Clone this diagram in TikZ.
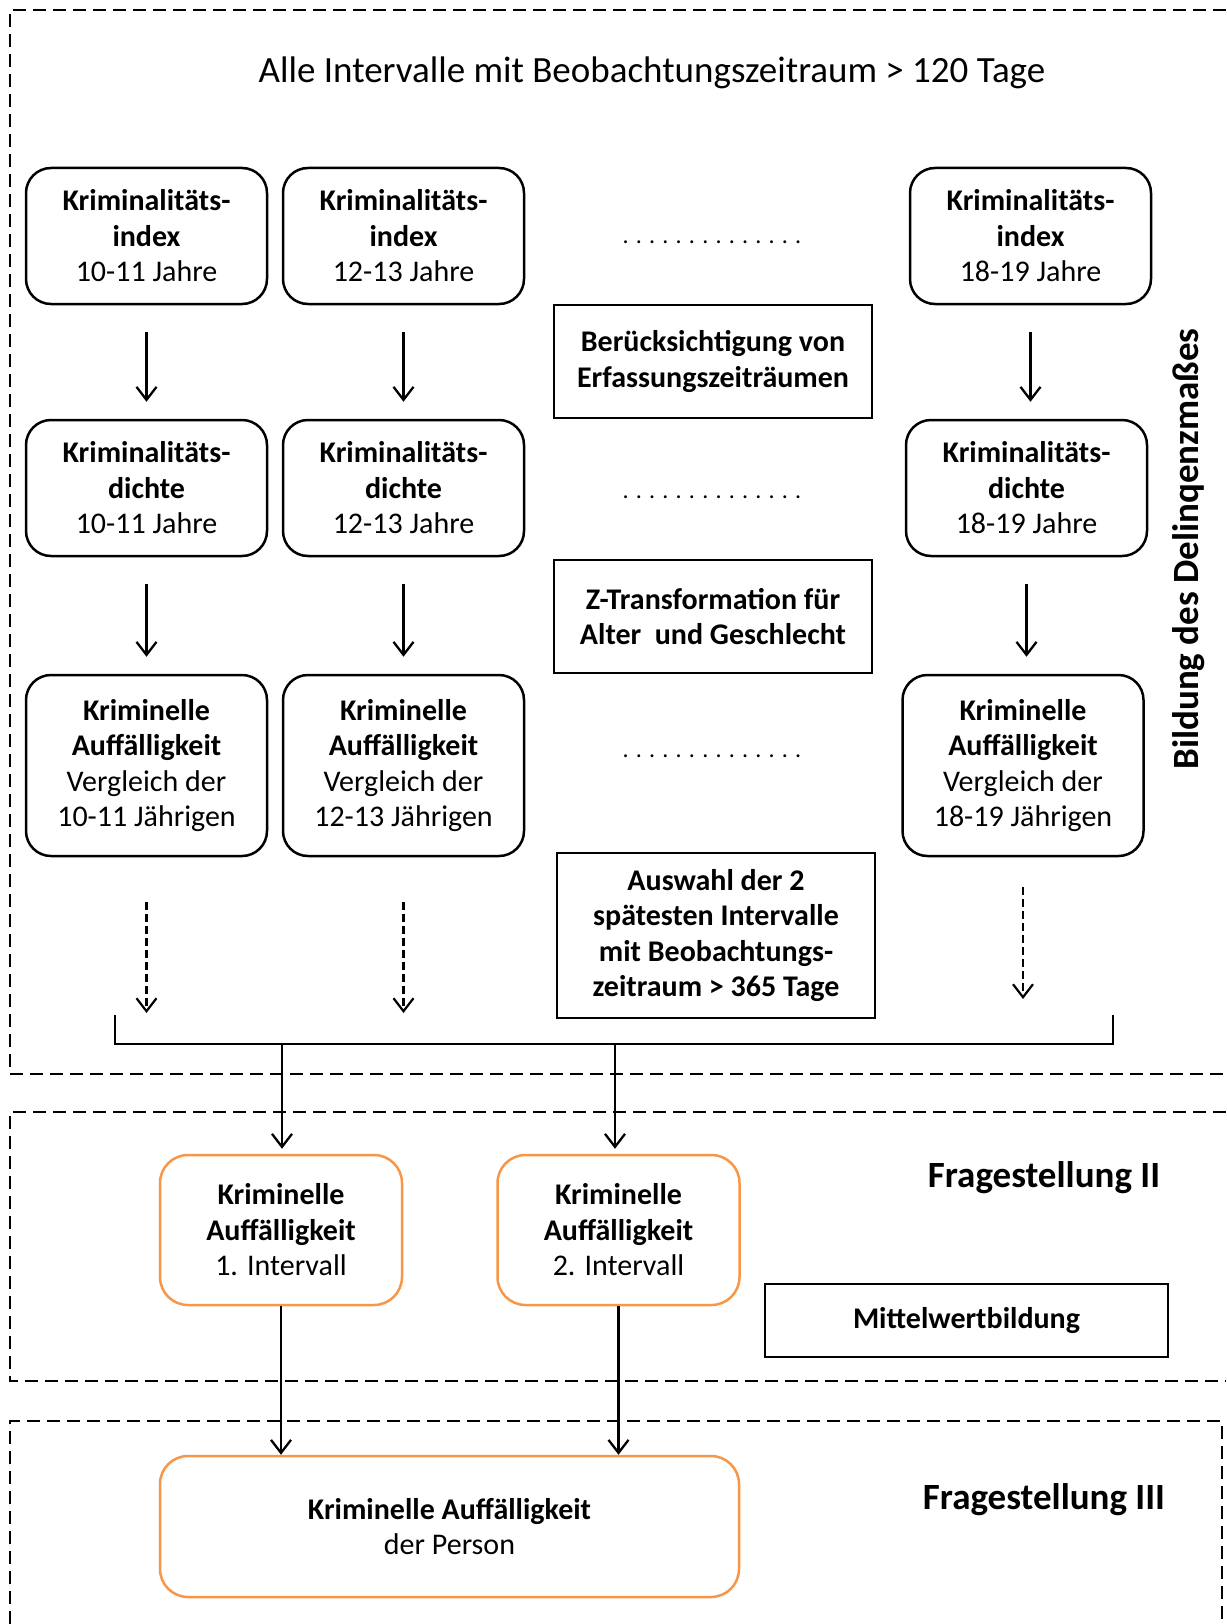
\documentclass[tikz,border=0pt]{standalone}
\usepackage{fontspec}
\setmainfont{Carlito}
\usepackage{tikz}
\usetikzlibrary{arrows.meta, positioning, calc}
\usepackage{xcolor}
\definecolor{fsorange}{HTML}{F79646}

\begin{document}
\begin{tikzpicture}[
    x=1pt, y=-1pt,
    txt/.style={font=\fontsize{30}{35.5}\selectfont, align=center},
    agebox/.style={txt, draw, line width=2.5pt, rounded corners=25pt,
                   minimum width=241pt, minimum height=136pt},
    tallbox/.style={agebox, minimum height=181pt},
    stepbox/.style={txt, draw, line width=2pt, minimum width=318pt,
                    minimum height=113pt, font=\fontsize{30}{35.5}\selectfont\bfseries},
    resbox/.style={txt, draw=fsorange, line width=2.5pt, rounded corners=28pt,
                   minimum width=242pt, minimum height=150pt},
    dotrow/.style={font=\fontsize{24}{28}\selectfont},
    heading/.style={font=\fontsize{37}{44}\selectfont\bfseries},
    arr/.style={-{Straight Barb[length=13pt, width=20pt]}, line width=2.3pt},
    darr/.style={arr, line width=2.2pt, dash pattern=on 8pt off 4pt},
    groupframe/.style={line width=2.8pt, dash pattern=on 13pt off 7pt}
  ]
    \useasboundingbox (0,0) rectangle (1226,1624);

    % dashed groups
    \draw[groupframe] (1226,10) -- (10,10) -- (10,1074) -- (1226,1074);
    \draw[groupframe] (1226,1112) -- (10,1112) -- (10,1381) -- (1226,1381);
    \draw[groupframe] (10,1624) -- (10,1421) -- (1222,1421) -- (1222,1624);

    \node[font=\fontsize{37}{44}\selectfont] (title) at (652,73)
      {Alle Intervalle mit Beobachtungszeitraum > 120 Tage};

    % row 1
    \node[agebox] (a1) at (146.5,236)
      {\textbf{Kriminalitäts-}\\\textbf{index}\\10-11 Jahre};
    \node[agebox] (b1) at (403.5,236)
      {\textbf{Kriminalitäts-}\\\textbf{index}\\12-13 Jahre};
    \node[agebox] (c1) at (1030.5,236)
      {\textbf{Kriminalitäts-}\\\textbf{index}\\18-19 Jahre};
    \node[dotrow] (d1) at (712,242) {. . . . . . . . . . . . . .};

    \node[stepbox] (erfass) at (713,361.5)
      {Berücksichtigung von\\Erfassungszeiträumen};

    % row 2
    \node[agebox] (a2) at (146.5,488)
      {\textbf{Kriminalitäts-}\\\textbf{dichte}\\10-11 Jahre};
    \node[agebox] (b2) at (403.5,488)
      {\textbf{Kriminalitäts-}\\\textbf{dichte}\\12-13 Jahre};
    \node[agebox] (c2) at (1026.5,488)
      {\textbf{Kriminalitäts-}\\\textbf{dichte}\\18-19 Jahre};
    \node[dotrow] (d2) at (712,497) {. . . . . . . . . . . . . .};

    \node[stepbox] (ztrans) at (713,616.5)
      {Z-Transformation für\\Alter~ und Geschlecht};

    % row 3
    \node[tallbox] (a3) at (146.5,765.5)
      {\textbf{Kriminelle}\\\textbf{Auffälligkeit}\\Vergleich der\\10-11 Jährigen};
    \node[tallbox] (b3) at (403.5,765.5)
      {\textbf{Kriminelle}\\\textbf{Auffälligkeit}\\Vergleich der\\12-13 Jährigen};
    \node[tallbox] (c3) at (1023,765.5)
      {\textbf{Kriminelle}\\\textbf{Auffälligkeit}\\Vergleich der\\18-19 Jährigen};
    \node[dotrow] (d3) at (712,756) {. . . . . . . . . . . . . .};

    \node[stepbox, minimum height=165pt] (auswahl) at (716,935.5)
      {Auswahl der 2\\spätesten Intervalle\\mit Beobachtungs-\\zeitraum > 365 Tage};

    \node[heading, rotate=90] (delinq) at (1189,549) {Bildung des Delinqenzmaßes};

    % vertical arrows
    \foreach \top/\bot in {a1/a2, b1/b2, c1/c2, a2/a3, b2/b3, c2/c3}
      \draw[arr, shorten <=27pt, shorten >=17pt] (\top.south) -- (\top.south |- \bot.north);

    \coordinate (dend) at (0,1013);
    \coordinate (dendc) at (0,999);
    \draw[darr, shorten <=45pt] (a3.south) -- (a3.south |- dend);
    \draw[darr, shorten <=45pt] (b3.south) -- (b3.south |- dend);
    \draw[darr, shorten <=30pt] (c3.south) -- (c3.south |- dendc);

    % bracket
    \coordinate (brl) at (115,1015);
    \coordinate (brr) at (1113,1015);
    \draw[line width=2.5pt] (brl) -- ++(0,29) -| (brr);
    \coordinate (brk1) at (282,1044);
    \coordinate (brk2) at (615,1044);

    % Fragestellung II
    \node[resbox] (or1) at (281,1230)
      {\textbf{Kriminelle}\\\textbf{Auffälligkeit}\\1. Intervall};
    \node[resbox] (or2) at (618.5,1230)
      {\textbf{Kriminelle}\\\textbf{Auffälligkeit}\\2. Intervall};
    \node[heading] (fs2) at (1044,1178) {Fragestellung II};
    \node[stepbox, minimum width=403pt, minimum height=73pt] (mittel) at (966.5,1320.5)
      {Mittelwertbildung};

    \draw[arr, shorten >=5pt] (brk1) -- (brk1 |- or1.north);
    \draw[arr, shorten >=5pt] (brk2) -- (brk2 |- or2.north);

    % Fragestellung III
    \node[resbox, minimum width=579pt, minimum height=141pt] (person) at (449.5,1526.5)
      {\textbf{Kriminelle Auffälligkeit}\\der Person};
    \node[heading] (fs3) at (1044,1500) {Fragestellung III};

    \draw[arr] (or1.south) -- (or1.south |- person.north);
    \draw[arr] (or2.south) -- (or2.south |- person.north);
  \end{tikzpicture}
\end{document}
